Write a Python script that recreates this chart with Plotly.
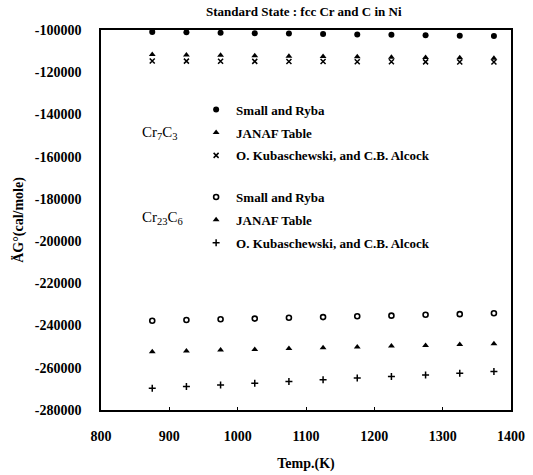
import plotly.graph_objects as go

temps = [875, 925, 975, 1025, 1075, 1125, 1175, 1225, 1275, 1325, 1375]

cr7c3_small_ryba = [-100900, -101100, -101300, -101500, -101700, -101900, -102100, -102300, -102500, -102700, -102900]
cr7c3_janaf = [-111600, -111800, -112000, -112200, -112400, -112500, -112700, -112900, -113000, -113200, -113400]
cr7c3_kubaschewski = [-114700, -114750, -114800, -114850, -114900, -114950, -115000, -115050, -115100, -115150, -115200]

cr23c6_small_ryba = [-237700, -237400, -237000, -236700, -236300, -236000, -235600, -235300, -234900, -234600, -234200]
cr23c6_janaf = [-252400, -252000, -251600, -251300, -250900, -250500, -250100, -249700, -249400, -249000, -248600]
cr23c6_kubaschewski = [-269700, -268900, -268100, -267300, -266500, -265700, -264900, -264100, -263400, -262600, -261800]

y_tickvals = [-100000, -120000, -140000, -160000, -180000, -200000, -220000, -240000, -260000, -280000]
y_ticktext = ["-100000", "-120000", "-140000", "-160000", "-180000", "-200000", "-220000", "-240000", "-260000", "-280000"]
x_tickvals = [800, 900, 1000, 1100, 1200, 1300, 1400]
x_ticktext = ["800", "900", "1000", "1100", "1200", "1300", "1400"]

labels = ["Small and Ryba", "JANAF Table", "O. Kubaschewski, and C.B. Alcock"]

FONT = "Liberation Serif"
fig = go.Figure()

def add(y, name, symbol, size, lw, legend, group):
    fig.add_trace(go.Scatter(
        x=temps, y=y, mode="markers", name=f"<b>{name}</b>",
        marker=dict(symbol=symbol, size=size, color="black",
                    line=dict(color="black", width=lw)),
        legend=legend, legendgroup=group, showlegend=True,
    ))

add(cr7c3_small_ryba, labels[0], "circle", 6, 0, "legend", "a1")
add(cr7c3_janaf, labels[1], "triangle-up", 6, 0, "legend", "a2")
add(cr7c3_kubaschewski, labels[2], "x-thin-open", 5, 1.5, "legend", "a3")
add(cr23c6_small_ryba, labels[0], "circle-open", 5, 1.6, "legend2", "b1")
add(cr23c6_janaf, labels[1], "triangle-up", 6, 0, "legend2", "b2")
add(cr23c6_kubaschewski, labels[2], "cross-thin-open", 5, 1.5, "legend2", "b3")

leg_common = dict(
    bgcolor="rgba(0,0,0,0)", borderwidth=0, traceorder="grouped",
    tracegroupgap=3, font=dict(family=FONT, size=13, color="black"),
    xanchor="left", yanchor="top",
)
fig.update_layout(
    legend=dict(x=0.232, y=0.83, **leg_common),
    legend2=dict(x=0.232, y=0.6, **leg_common),
)

fig.add_annotation(text="Cr<sub>7</sub>C<sub>3</sub>", xref="paper", yref="paper",
                   x=0.095, y=0.73, showarrow=False, xanchor="left", yanchor="middle",
                   font=dict(family=FONT, size=15, color="black"))
fig.add_annotation(text="Cr<sub>23</sub>C<sub>6</sub>", xref="paper", yref="paper",
                   x=0.095, y=0.505, showarrow=False, xanchor="left", yanchor="middle",
                   font=dict(family=FONT, size=15, color="black"))

fig.update_layout(
    width=533, height=475,
    margin=dict(l=101, r=22, t=30, b=65),
    paper_bgcolor="white", plot_bgcolor="white",
    title=dict(text="<b>Standard State : fcc Cr and C in Ni</b>", x=0.57, xanchor="center",
               y=0.975, yanchor="middle", font=dict(family=FONT, size=13, color="black")),
    font=dict(family=FONT, color="black"),
)
fig.update_xaxes(
    range=[800, 1400], tickvals=x_tickvals, ticktext=[f"<b>{t}</b>" for t in x_ticktext],
    showgrid=False, zeroline=False, showline=True, linecolor="black", linewidth=1.5,
    mirror=True, ticks="inside", ticklen=3, tickcolor="black", ticklabelstandoff=12,
    automargin=False,
    tickfont=dict(family=FONT, size=14, color="black"),
    title=dict(text="<b>Temp.(K)</b>", font=dict(family=FONT, size=14, color="black"), standoff=16),
)
fig.update_yaxes(
    range=[-280000, -100000], tickvals=y_tickvals, ticktext=[f"<b>{t}</b>" for t in y_ticktext],
    showgrid=False, zeroline=False, showline=True, linecolor="black", linewidth=1.5,
    mirror=True, ticks="", tickcolor="black", ticklabelstandoff=15, automargin=False,
    tickfont=dict(family=FONT, size=14, color="black"),
    title=dict(text="<b>ÄG°(cal/mole)</b>", font=dict(family=FONT, size=14, color="black"), standoff=8),
)

fig.write_html("out.html")
